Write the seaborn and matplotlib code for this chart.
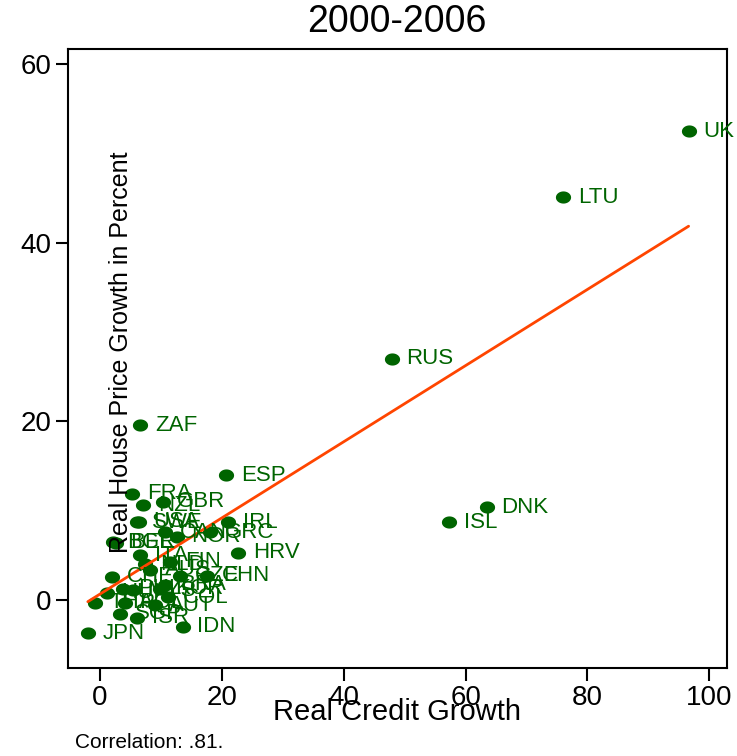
import matplotlib
matplotlib.use("Agg")
import matplotlib.pyplot as plt
import seaborn as sns
import numpy as np
import pandas as pd

countries = ["UK", "LTU", "RUS", "ZAF", "ESP", "DNK", "ISL", "IRL", "HRV", "IDN",
             "JPN", "FRA", "NZL", "GBR", "SWE", "USA", "BGR", "BEL", "CAN", "NOR",
             "GRC", "ITA", "NLD", "FIN", "AUS", "CHE", "CZE", "CHN", "KOR", "PHL",
             "MYS", "BRA", "COL", "HUN", "THA", "POL", "SGP", "ISR", "AUT"]
credit_growth = [96.6, 76.0, 47.9, 6.6, 20.7, 63.5, 57.3, 21.0, 22.7, 13.6,
                 -2.0, 5.3, 7.1, 10.3, 6.1, 6.4, 2.1, 2.6, 10.7, 12.6,
                 18.1, 6.6, 7.4, 11.5, 8.2, 2.0, 13.1, 17.6, 9.9, 3.8,
                 5.4, 10.7, 11.2, 1.1, -0.8, 4.1, 3.3, 6.1, 9.0]
house_price_growth = [52.5, 45.1, 27.0, 19.6, 14.0, 10.4, 8.7, 8.7, 5.3, -3.0,
                      -3.7, 11.9, 10.6, 11.0, 8.7, 8.8, 6.5, 6.4, 7.6, 7.1,
                      7.6, 5.0, 4.0, 4.3, 3.4, 2.6, 2.7, 2.7, 1.3, 1.3,
                      1.1, 1.7, 0.3, 0.8, -0.3, -0.3, -1.5, -2.0, -0.6]
x_ticks = [0, 20, 40, 60, 80, 100]
y_ticks = [0, 20, 40, 60]

df = pd.DataFrame({"country": countries, "credit": credit_growth, "house": house_price_growth})

sns.set_theme(style="white")
plt.rcParams["font.family"] = ["Liberation Sans", "DejaVu Sans"]

W, H = 737, 756
fig = plt.figure(figsize=(W / 100, H / 100), dpi=100)
ax = fig.add_axes([68 / W, 1 - 668 / H, (727 - 68) / W, (668 - 49) / H])

green = "#006400"
t = np.linspace(0, 2 * np.pi, 40)
ell = np.column_stack([1.25 * np.cos(t), np.sin(t)])

sns.regplot(data=df, x="credit", y="house", ci=None, scatter=False, ax=ax,
            line_kws=dict(color="#ff4500", lw=2.0, zorder=3))
sns.scatterplot(data=df, x="credit", y="house", ax=ax, marker=ell, s=120,
                color=green, edgecolor=green, linewidth=0, zorder=2)

for c, xv, yv in zip(countries, credit_growth, house_price_growth):
    ax.annotate(c, (xv, yv), xytext=(10.5, 0), textcoords="offset points",
                ha="left", va="center", color=green, fontsize=16, zorder=4,
                annotation_clip=False)

ax.set_xlim(-5.25, 102.9)
ax.set_ylim(-7.6, 61.7)
ax.set_xticks(x_ticks)
ax.set_yticks(y_ticks)
ax.set_xticklabels([str(v) for v in x_ticks], fontsize=20, color="black")
ax.set_yticklabels([str(v) for v in y_ticks], fontsize=20, color="black")
ax.tick_params(axis="both", direction="out", length=9, width=1.5, color="black",
               bottom=True, left=True)
ax.tick_params(axis="x", pad=3)
ax.tick_params(axis="y", pad=3)
for s in ax.spines.values():
    s.set_visible(True)
    s.set_color("black")
    s.set_linewidth(1.5)
ax.set_xlabel("")
ax.set_ylabel("")

fig.text(397 / W, 1 - 22 / H, "2000-2006", ha="center", va="center", fontsize=27, color="black")
fig.text(397 / W, 1 - 712 / H, "Real Credit Growth", ha="center", va="center", fontsize=21, color="black")
fig.text(121 / W, 1 - 352 / H, "Real House Price Growth in Percent", ha="center", va="center",
         rotation=90, fontsize=18, color="black")
fig.text(75 / W, 1 - 742 / H, "Correlation: .81.", ha="left", va="center", fontsize=15, color="black")

fig.savefig("out.png", dpi=100)
